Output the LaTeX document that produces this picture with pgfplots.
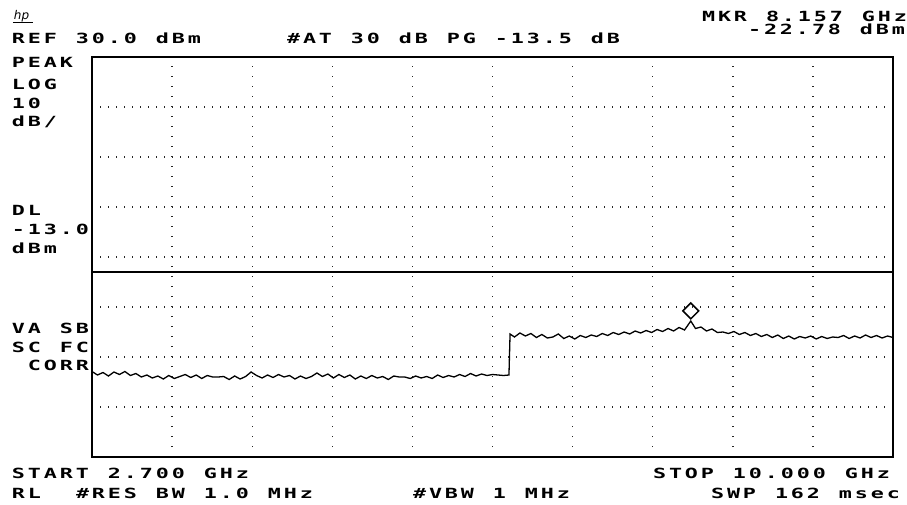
\documentclass[border=0pt]{standalone}
\usepackage{pgfplots}
\pgfplotsset{compat=1.18}
\usepackage{fontspec}
\setmainfont{DejaVu Sans Mono}
\newfontfamily\hpf[FakeStretch=1.55]{DejaVu Sans Mono}
\newfontfamily\logof{DejaVu Sans}
\ExplSyntaxOn
\NewDocumentCommand\hp{m}{\str_map_inline:nn{#1}{\makebox[16pt][l]{##1}}}
\ExplSyntaxOff
\begin{document}
\begin{tikzpicture}
\begin{axis}[
  scale only axis, width=801pt, height=400pt,
  xmin=2.7, xmax=10, ymin=-50, ymax=30,
  xtick={3.43,4.16,4.89,5.62,6.35,7.08,7.81,8.54,9.27},
  ytick={-40,-30,-20,-10,0,10,20},
  xticklabels={}, yticklabels={},
  major tick length=0pt,
  grid=major,
  x grid style={black!85, line width=1.4pt, dash pattern=on 1.4pt off 8.6pt},
  y grid style={black!85, line width=1.4pt, dash pattern=on 1.4pt off 6.6pt},
  axis line style={line width=1.6pt},
]
% display line DL -13.0 dBm
\addplot[black, line width=1.4pt] coordinates {(2.7,-13) (10,-13)};
% trace
\addplot[black, line width=1.3pt] coordinates {
(2.70,-32.9) (2.75,-33.6) (2.80,-33.1) (2.85,-33.8) (2.90,-33.0) (2.95,-33.5)
(3.00,-32.9) (3.05,-33.7) (3.10,-33.3) (3.15,-34.0) (3.20,-33.6) (3.25,-34.2)
(3.30,-33.8) (3.35,-34.4) (3.40,-33.7) (3.45,-34.3) (3.50,-33.9) (3.55,-33.5)
(3.60,-34.1) (3.65,-33.6) (3.70,-34.3) (3.75,-33.7) (3.80,-34.0) (3.85,-34.0)
(3.90,-33.9) (3.95,-34.5) (4.00,-33.8) (4.05,-34.4) (4.10,-33.9) (4.15,-33.0)
(4.20,-33.7) (4.25,-34.2) (4.30,-33.6) (4.35,-34.1) (4.40,-33.5) (4.45,-34.0)
(4.50,-33.7) (4.55,-34.4) (4.60,-33.8) (4.65,-34.3) (4.70,-33.9) (4.75,-33.2)
(4.80,-33.9) (4.85,-33.4) (4.90,-34.2) (4.95,-33.5) (5.00,-34.1) (5.05,-33.6)
(5.10,-34.4) (5.15,-33.8) (5.20,-34.3) (5.25,-33.7) (5.30,-34.2) (5.35,-33.9)
(5.40,-34.5) (5.45,-33.8) (5.50,-34.0) (5.55,-34.0) (5.60,-34.3) (5.65,-33.8)
(5.70,-34.2) (5.75,-33.9) (5.80,-34.3) (5.85,-33.6) (5.90,-34.1) (5.95,-33.7)
(6.00,-34.0) (6.05,-33.5) (6.10,-33.9) (6.15,-33.3) (6.20,-33.8) (6.25,-33.4)
(6.30,-33.7) (6.35,-33.5) (6.40,-33.6) (6.45,-33.7) (6.50,-33.6) (6.51,-25.4)
(6.55,-26.0) (6.60,-25.2) (6.65,-25.8) (6.70,-25.3) (6.75,-26.1) (6.80,-25.5)
(6.85,-26.2) (6.90,-26.0) (6.95,-25.4) (7.00,-26.3) (7.05,-25.8) (7.10,-26.4)
(7.15,-25.7) (7.20,-26.1) (7.25,-25.6) (7.30,-25.9) (7.35,-25.3) (7.40,-25.7)
(7.45,-25.1) (7.50,-25.5) (7.55,-25.0) (7.60,-25.4) (7.65,-24.8) (7.70,-25.2)
(7.75,-24.7) (7.80,-25.1) (7.85,-24.5) (7.90,-24.9) (7.95,-24.3) (8.00,-24.8)
(8.05,-24.1) (8.10,-24.6) (8.157,-22.8) (8.20,-24.3) (8.25,-24.0) (8.30,-24.8)
(8.35,-24.4) (8.40,-25.1) (8.45,-25.0) (8.50,-25.3) (8.55,-24.9) (8.60,-25.5)
(8.65,-25.1) (8.70,-25.7) (8.75,-25.3) (8.80,-25.9) (8.85,-25.5) (8.90,-26.1)
(8.95,-25.6) (9.00,-26.3) (9.05,-25.8) (9.10,-26.4) (9.15,-25.9) (9.20,-26.2)
(9.25,-25.8) (9.30,-26.4) (9.35,-25.9) (9.40,-26.3) (9.45,-26.0) (9.50,-26.1)
(9.55,-25.7) (9.60,-26.3) (9.65,-25.8) (9.70,-26.2) (9.75,-25.6) (9.80,-26.1)
(9.85,-25.7) (9.90,-26.2) (9.95,-25.8) (10.00,-26.1)
};
% marker
\addplot[only marks, mark=square, mark size=5.6pt,
  mark options={yshift=10pt, rotate=45, line width=1.5pt, fill=white, draw=black}]
  coordinates {(8.157,-22.78)};
\end{axis}
\begin{scope}[shift={(current axis.north west)}, xshift=-92pt, yshift=57pt, x=1pt, y=-1pt,
  every node/.style={anchor=base west, inner sep=0pt, outer sep=0pt,
  font=\hpf\bfseries\fontsize{14}{16}\selectfont}]
\path[use as bounding box] (0,0) rectangle (907,504);
\node[font=\logof\itshape\fontsize{12}{12}\selectfont] at (14,20) {hp};
\draw[line width=0.6pt] (13,22) -- (33,22);
\node at (12,43.5) {\hp{REF 30.0 dBm}};
\node at (287,43.5) {\makebox[16pt][l]{\#}};
\node at (303,43.5) {\hp{AT 30 dB PG -13.5 dB}};
\node at (702,22) {\hp{MKR 8.157 GHz}};
\node at (748,35) {\hp{-22.78 dBm}};
\node at (12,68) {\hp{PEAK}};
\node at (12,90) {\hp{LOG}};
\node at (12,109) {\hp{10}};
\node at (12,127) {\hp{dB/}};
\node at (12,215) {\hp{DL}};
\node at (12,234) {\hp{-13.0}};
\node at (12,253) {\hp{dBm}};
\node at (12,333) {\hp{VA SB}};
\node at (12,352) {\hp{SC FC}};
\node at (28,370) {\hp{CORR}};
\node at (12,478) {\hp{START 2.700 GHz}};
\node at (653,478) {\hp{STOP 10.000 GHz}};
\node at (12,498) {\hp{RL}};
\node at (76,498) {\makebox[16pt][l]{\#}};
\node at (92,498) {\hp{RES BW 1.0 MHz}};
\node at (413,498) {\makebox[16pt][l]{\#}};
\node at (429,498) {\hp{VBW 1 MHz}};
\node at (711,498) {\hp{SWP 162 msec}};
\end{scope}
\end{tikzpicture}
\end{document}
